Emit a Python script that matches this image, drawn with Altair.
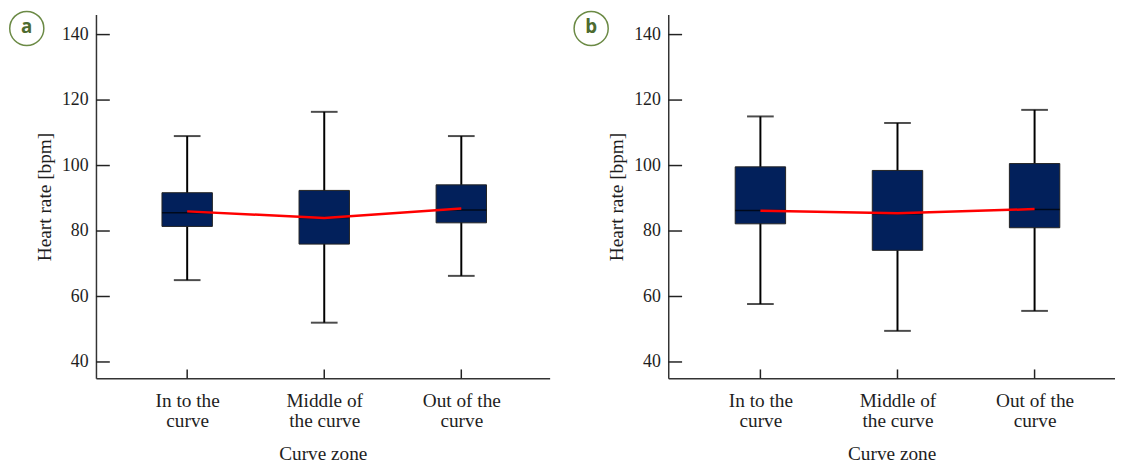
import altair as alt
import pandas as pd

categories = ["In to the curve", "Middle of the curve", "Out of the curve"]
label_lines = [["In to the", "curve"], ["Middle of", "the curve"], ["Out of the", "curve"]]
y_tick_values = [40, 60, 80, 100, 120, 140]

# panel a
a_lo = [65.0, 52.0, 66.3]
a_q1 = [81.4, 76.0, 82.5]
a_med = [85.6, 84.1, 86.4]
a_q3 = [91.7, 92.4, 94.1]
a_hi = [109.0, 116.4, 109.0]
a_mean = [86.0, 84.0, 86.9]

# panel b
b_lo = [57.7, 49.5, 55.6]
b_q1 = [82.2, 74.1, 81.0]
b_med = [86.3, 85.3, 86.6]
b_q3 = [99.6, 98.5, 100.6]
b_hi = [115.0, 113.0, 117.0]
b_mean = [86.2, 85.4, 86.7]

FONT = "Liberation Serif"
NAVY = "#02205b"
INK = "#1e1e1e"
GREEN = "#6b8a45"

label_expr = " : ".join(
    f"datum.value == '{c}' ? {lines!r}" for c, lines in zip(categories[:-1], label_lines[:-1])
) + f" : {label_lines[-1]!r}"

Y_SCALE = alt.Scale(domain=[35, 146.1], nice=False, zero=False)
H = 368

Y_AXIS = alt.Axis(
    title="Heart rate [bpm]", values=y_tick_values, ticks=False, tickSize=0,
    labelPadding=8, titlePadding=7, domainColor="#333333", domainWidth=1.5,
    labelFont=FONT, labelFontSize=18, labelColor=INK,
    titleFont=FONT, titleFontSize=19.5, titleFontWeight="normal",
    titleColor=INK, grid=False)

X_AXIS = alt.Axis(title="Curve zone", labelExpr=label_expr, labelAngle=0,
                  ticks=False, tickSize=0, labelPadding=13, labelLineHeight=21,
                  titlePadding=15, domainColor="#333333", domainWidth=1.5,
                  labelFont=FONT, labelFontSize=19.5, labelColor=INK,
                  titleFont=FONT, titleFontSize=19.5, titleFontWeight="normal",
                  titleColor=INK, grid=False)


def panel(lo, q1, med, q3, hi, mean, letter, width, pad, align, circ_x):
    df = pd.DataFrame({"cat": categories, "lo": lo, "q1": q1, "med": med,
                       "q3": q3, "hi": hi, "mean": mean})
    xscale = alt.Scale(type="point", padding=pad, align=align)
    X = alt.X("cat:N", sort=categories, scale=xscale, axis=X_AXIS)

    def Y(f):
        return alt.Y(f, scale=Y_SCALE, axis=Y_AXIS)

    base = alt.Chart(df)

    yt = alt.Chart(pd.DataFrame({"v": y_tick_values})).mark_rule(
        color="#222222", strokeWidth=1.5).encode(
        y=Y("v:Q"), x=alt.value(0), x2=alt.value(14))

    xt = base.mark_rule(color="#222222", strokeWidth=1.5).encode(
        x=X, y=alt.value(H), y2=alt.value(H - 9))

    whisk = base.mark_rule(color="#000000", strokeWidth=2).encode(
        x=X, y=Y("lo:Q"), y2="hi:Q")
    cap_lo = base.mark_tick(color="#000000", thickness=2, size=27).encode(
        x=X, y=Y("lo:Q"))
    cap_hi = base.mark_tick(color="#000000", thickness=2, size=27).encode(
        x=X, y=Y("hi:Q"))
    box = base.mark_bar(color=NAVY, stroke="#222222", strokeWidth=1, size=51).encode(
        x=X, y=Y("q1:Q"), y2="q3:Q")
    median = base.mark_tick(color="#000000", thickness=1.5, size=51).encode(
        x=X, y=Y("med:Q"))
    mean_line = base.mark_line(color="#ff0000", strokeWidth=2.5).encode(
        x=X, y=Y("mean:Q"))

    lab = alt.Chart(pd.DataFrame({"lab": [letter]}))
    circ = lab.mark_point(shape="circle", size=1190, filled=False, stroke=GREEN,
                          strokeWidth=1.5, opacity=1).encode(
        x=alt.value(circ_x), y=alt.value(14))
    letter_txt = lab.mark_text(font="Open Sans", fontWeight="bold", fontSize=19,
                               color="#4d6b2f", align="center", baseline="middle").encode(
        x=alt.value(circ_x), y=alt.value(13), text="lab:N")

    return alt.layer(yt, xt, whisk, cap_lo, cap_hi, box, median, mean_line,
                     circ, letter_txt).properties(width=width, height=H)


pa = panel(a_lo, a_q1, a_med, a_q3, a_hi, a_mean, "a", 459, 0.655, 0.508, -70)
pb = panel(b_lo, b_q1, b_med, b_q3, b_hi, b_mean, "b", 452, 0.6294, 0.534, -78)

chart = alt.hconcat(pa, pb, spacing=21).properties(
    padding={"left": -2, "top": -3, "right": 0, "bottom": 0}
).configure(font=FONT).configure_view(stroke=None)

chart.save("out.html", embed_options={"renderer": "svg", "actions": False})
